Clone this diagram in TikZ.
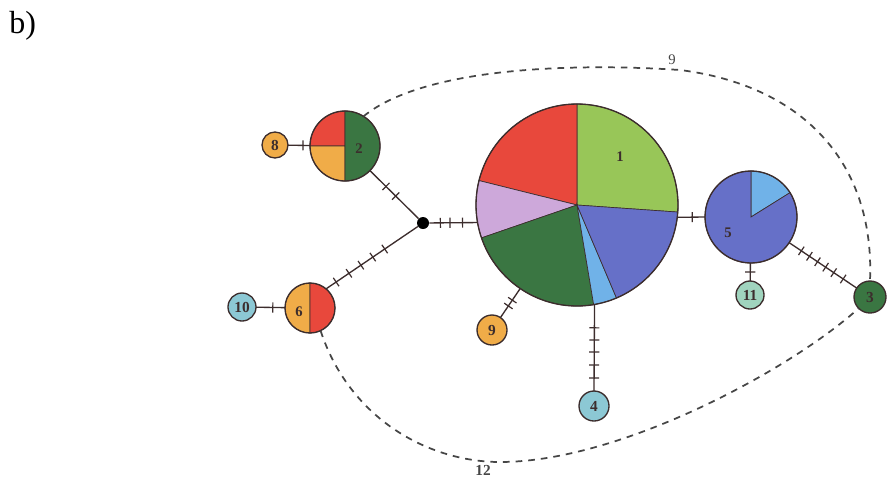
\documentclass[tikz,border=0pt]{standalone}
\usepackage{fontspec}
\setmainfont{Liberation Serif}
\usetikzlibrary{decorations.markings}
\definecolor{cgreen}{RGB}{152,198,88}
\definecolor{cred}{RGB}{232,72,60}
\definecolor{clilac}{RGB}{205,168,218}
\definecolor{cdgreen}{RGB}{58,118,66}
\definecolor{cltblue}{RGB}{112,178,232}
\definecolor{cblue}{RGB}{102,112,200}
\definecolor{corange}{RGB}{240,172,72}
\definecolor{cteal}{RGB}{140,200,212}
\definecolor{cmint}{RGB}{160,212,190}
\definecolor{cline}{RGB}{60,45,45}
\definecolor{cdash}{RGB}{70,70,70}
\newcommand{\pslice}[5]{\filldraw[fill=#5, draw=cline, line width=0.5pt] (#1) -- ++(#3:#2) arc[start angle=#3, end angle=#4, radius=#2] -- cycle;}
\tikzset{
 hap/.style={circle, draw=cline, line width=1pt, inner sep=0pt, outer sep=0pt, minimum size=#1},
 lab/.style={font=\fontsize{11}{12}\selectfont\bfseries, text=cline},
 slab/.style={font=\fontsize{11.5}{12}\selectfont\bfseries, text=cline},
 edge/.style={draw=cline, line width=1pt},
 tk/.style={decoration={markings, mark=at position #1 with {\draw[cline, line width=0.9pt] (0,-3.8pt) -- (0,3.8pt);}}},
 ticks/.style={postaction={decorate}},
 dashline/.style={draw=cdash, line width=1.3pt, dash pattern=on 5pt off 4.5pt},
}
\begin{document}
\begin{tikzpicture}[x=0.75pt,y=0.75pt]
\fill[white] (0,0) rectangle (892,-487);
\useasboundingbox (0,0) rectangle (892,-487);
% big pie 1
\pslice{577,-205}{101}{-4}{90}{cgreen}
\pslice{577,-205}{101}{90}{166}{cred}
\pslice{577,-205}{101}{166}{199}{clilac}
\pslice{577,-205}{101}{199}{279.5}{cdgreen}
\pslice{577,-205}{101}{279.5}{293}{cltblue}
\pslice{577,-205}{101}{293}{356}{cblue}
\node[hap=151.5pt] (p1) at (577,-205) {};
\node[lab] (l1) at (620,-157) {1};
% pie 2
\pslice{345,-146}{35}{90}{180}{cred}
\pslice{345,-146}{35}{180}{270}{corange}
\pslice{345,-146}{35}{-90}{90}{cdgreen}
\node[hap=52.5pt] (n2) at (345,-146) {};
\node[lab] (l2) at (359,-149) {2};
% pie 6
\pslice{310,-308}{25}{90}{270}{corange}
\pslice{310,-308}{25}{-90}{90}{cred}
\node[hap=37.5pt] (n6) at (310,-308) {};
\node[lab] (l6) at (299,-312) {6};
% pie 5
\pslice{751,-217}{46}{32}{90}{cltblue}
\pslice{751,-217}{46}{90}{392}{cblue}
\node[hap=69pt] (n5) at (751,-217) {};
\node[lab] (l5) at (728,-233) {5};
% small nodes
\node[hap=19.5pt, fill=corange, slab] (n8) at (275,-145) {8};
\node[hap=21pt, fill=cteal, slab] (n10) at (242,-307) {10};
\node[hap=21pt, fill=cmint, slab] (n11) at (750,-295) {11};
\node[hap=24pt, fill=cdgreen, slab] (n3) at (870,-297) {3};
\node[hap=22.5pt, fill=corange, slab] (n9) at (492,-330) {9};
\node[hap=22.5pt, fill=cteal, slab] (n4) at (594,-406) {4};
\node[circle, fill=black, inner sep=0pt, minimum size=9pt] (J) at (423,-223) {};
% edges
\draw[edge, tk=0.68, ticks] (n8) -- (n2);
\draw[edge, tk=0.33, tk=0.53, ticks] (n2) -- (J);
\draw[edge, tk=0.23, tk=0.43, tk=0.69, ticks] (J) -- (p1.190.3);
\draw[edge, tk=0.58, ticks] (n10) -- (n6);
\draw[edge, tk=0.11, tk=0.25, tk=0.38, tk=0.51, tk=0.64, ticks] (n6.50) -- (J);
\draw[edge, tk=0.54, ticks] (p1.-7) -- (n5.west);
\draw[edge, tk=0.5, ticks] (n5) -- (n11);
\draw[edge, tk=0.18, tk=0.3, tk=0.42, tk=0.54, tk=0.66, tk=0.8, ticks] (n5) -- (n3);
\draw[edge, tk=0.4, tk=0.6, ticks] (p1) -- (n9);
\draw[edge, tk=0.27, tk=0.41, tk=0.55, tk=0.7, tk=0.85, ticks] (p1.-80.3) -- (n4.north);
% dashed loops
\coordinate (c9) at (680,-70);
\coordinate (c12) at (500,-462);
\draw[dashline] (n2.58) .. controls (420,-70) and (560,-62) .. (c9) .. controls (800,-85) and (875,-160) .. (n3.north);
\draw[dashline] (n6.-65) .. controls (350,-420) and (430,-462) .. (c12) .. controls (620,-462) and (790,-370) .. (n3.225);
\node[font=\fontsize{11}{12}\selectfont, text=cdash] (t9) at (672,-60) {9};
\node[font=\fontsize{11.5}{12}\selectfont\bfseries, text=cdash] (t12) at (483,-470) {12};
\node[font=\fontsize{24}{28}\selectfont, anchor=base west, inner sep=0pt] (tb) at (9,-33) {b)};
\end{tikzpicture}
\end{document}
